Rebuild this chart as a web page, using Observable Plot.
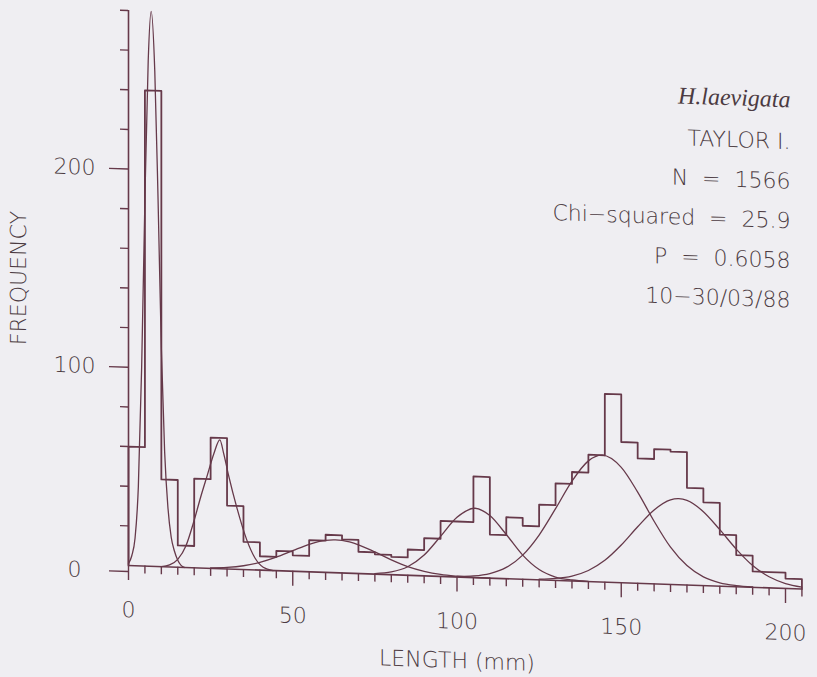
<!DOCTYPE html>
<html>
<head>
<meta charset="utf-8">
<script src="https://cdn.jsdelivr.net/npm/d3@7"></script>
<script src="https://cdn.jsdelivr.net/npm/@observablehq/plot@0.6"></script>
<style>
  html, body { margin: 0; padding: 0; background: #efeef2; overflow: hidden; }
  svg text { white-space: pre; }
  /* the original plotter sheet is slightly sheared: the length axis drops ~2 degrees to the right */
  #chart svg { transform: skewY(2deg); transform-origin: 128px 565px; }
</style>
</head>
<body>
<div id="chart"></div>
<script>
// ---- Histogram (length classes of 5 mm) ----
const binWidth = 5;
const binStart = [0,5,10,15,20,25,30,35,40,45,50,55,60,65,70,75,80,85,90,95,100,
                  105,110,115,120,125,130,135,140,145,150,155,160,165,170,175,180,185,190,195,200];
const binCount = [60,240,44,11,45,66,32,14,7,10,8,16,19,17,11,10,9,13,19,28,28,
                  51,22,31,27,38,49,55,64,95,71,63,68,67,49,42,26,16,8,8,5];

// ---- Fitted normal components ----
const comp1Len  = [0,1,2,3,4,5,6,6.9,8,9,10,11,12,13,14,15,16,17];
const comp1Freq = [1,5,14,40,100,185,255,280,250,185,110,58,30,15,8,3.5,1,0];
const comp2Len  = [10,12.5,15,17.5,20,22,24,26,27.8,29,30.5,33,36,38.5,41,44];
const comp2Freq = [0,1,4,11,24,36,47,58,65,58,47,31,15,6,1.5,0];
const comp3Len  = [25,30,35,40,45,50,55,60,63,65,70,75,80,85,90,95,100,105,110];
const comp3Freq = [0.3,0.8,1.9,3.9,6.8,10.4,13.9,16.2,16.6,16.4,14.5,11.2,7.5,4.4,2.3,1.0,0.4,0.1,0];
const comp4Len  = [75,80,85,90,95,100,105.5,110,115,120,125,130,135,140];
const comp4Freq = [0.3,1.4,4.3,10.5,20.2,30.1,35,31.6,22.3,12.2,5.2,1.7,0.5,0.1];
const comp5Len  = [100,105,110,115,120,125,130,135,140,144.2,150,155,160,165,170,175,180,185,190];
const comp5Freq = [0.3,0.8,2.3,5.7,12.2,22.6,36.2,50.4,60.9,64,58.2,46,31.6,18.8,9.8,4.4,1.7,0.6,0.2];
const comp6Len  = [125,130,135,140,145,150,155,160,165,167.5,170,175,180,185,190,195,200,205];
const comp6Freq = [0.3,1,2.5,5.6,11,19,28.5,37.3,42.7,43.4,42.7,37.3,28.5,19,11,5.6,2.5,1];

// ---- Ticks and labels ----
const xMajorTicks = [0,50,100,150,200];
const xMinorTicks = [5,10,15,20,25,30,35,40,45,55,60,65,70,75,80,85,90,95,
                     105,110,115,120,125,130,135,140,145,155,160,165,170,175,180,185,190,195,205];
const yMajorTicks = [100,200];
const yZeroTick = [0];
const yMinorTicks = [20,40,60,80,120,140,160,180,220,240,260,280];
const xLabel = "LENGTH (mm)";
const yLabel = "FREQUENCY";
const speciesName = "H.laevigata";
const infoLines = ["TAYLOR I.", "N  =  1566", "Chi\u2212squared  =  25.9", "P  =  0.6058", "10\u221230/03/88"];

// ---- Build tables ----
const lastEdge = binStart[binStart.length - 1] + binWidth;
const histRows = [{x: binStart[0], y: 0}]
  .concat(binStart.map((x, i) => ({x, y: binCount[i]})))
  .concat([{x: lastEdge, y: binCount[binCount.length - 1]}, {x: lastEdge, y: 0}]);

const comps = [
  [comp1Len, comp1Freq], [comp2Len, comp2Freq], [comp3Len, comp3Freq],
  [comp4Len, comp4Freq], [comp5Len, comp5Freq], [comp6Len, comp6Freq]
];
const compRows = comps.flatMap(([xs, ys], k) => xs.map((x, i) => ({c: k, x, y: ys[i]})));

const LINE = "#66394a";
const TEXT = "#4b3a41";
const FONT = "'DejaVu Sans', 'Liberation Sans', sans-serif";

const chart = Plot.plot({
  width: 817,
  height: 677,
  marginLeft: 128,
  marginRight: 32,
  marginTop: 10,
  marginBottom: 112,
  style: {background: "transparent", color: TEXT, fontFamily: FONT, fontSize: "22px", fontWeight: 300},
  x: {domain: [0, 200]},
  y: {domain: [0, 280]},
  marks: [
    Plot.ruleY([0], {x1: 0, x2: lastEdge, stroke: LINE, strokeWidth: 1.6}),
    Plot.ruleX([0], {y1: 0, y2: 280, stroke: LINE, strokeWidth: 1.6}),
    Plot.axisX(xMinorTicks, {tickSize: 8, tickFormat: () => "", stroke: LINE, strokeWidth: 1.4, label: null}),
    Plot.axisX(xMajorTicks, {tickSize: 15, tickPadding: 21, stroke: LINE, strokeWidth: 1.4, label: null, fill: TEXT}),
    Plot.axisY(yMinorTicks, {tickSize: 8, tickFormat: () => "", stroke: LINE, strokeWidth: 1.4, label: null}),
    Plot.axisY(yMajorTicks, {tickSize: 19, tickPadding: 14, stroke: LINE, strokeWidth: 1.4, label: null, fill: TEXT}),
    Plot.axisY(yZeroTick, {tickSize: 19, tickPadding: 28, stroke: LINE, strokeWidth: 1.4, label: null, fill: TEXT, dy: 6}),
    Plot.line(histRows, {x: "x", y: "y", curve: "step-after", stroke: LINE, strokeWidth: 1.8}),
    Plot.line(compRows, {x: "x", y: "y", z: "c", curve: "monotone-x", stroke: LINE, strokeWidth: 1.3}),
    Plot.text([xLabel], {frameAnchor: "bottom", dy: 84, lineAnchor: "middle", fill: TEXT}),
    Plot.text([yLabel], {frameAnchor: "left", dx: -110, dy: -6, rotate: -90, textAnchor: "middle", lineAnchor: "middle", fill: TEXT}),
    Plot.text([speciesName], {frameAnchor: "top-right", dx: 5, dy: 66, textAnchor: "end", lineAnchor: "middle",
      fontFamily: "'Liberation Serif', 'DejaVu Serif', serif", fontStyle: "italic", fontSize: 24, fontWeight: 400, fill: TEXT}),
    Plot.text([infoLines.join("\n")], {frameAnchor: "top-right", dx: 5, dy: 182, textAnchor: "end", lineAnchor: "middle",
      lineHeight: 1.8, fill: TEXT})
  ]
});
document.getElementById("chart").appendChild(chart);
</script>
</body>
</html>
